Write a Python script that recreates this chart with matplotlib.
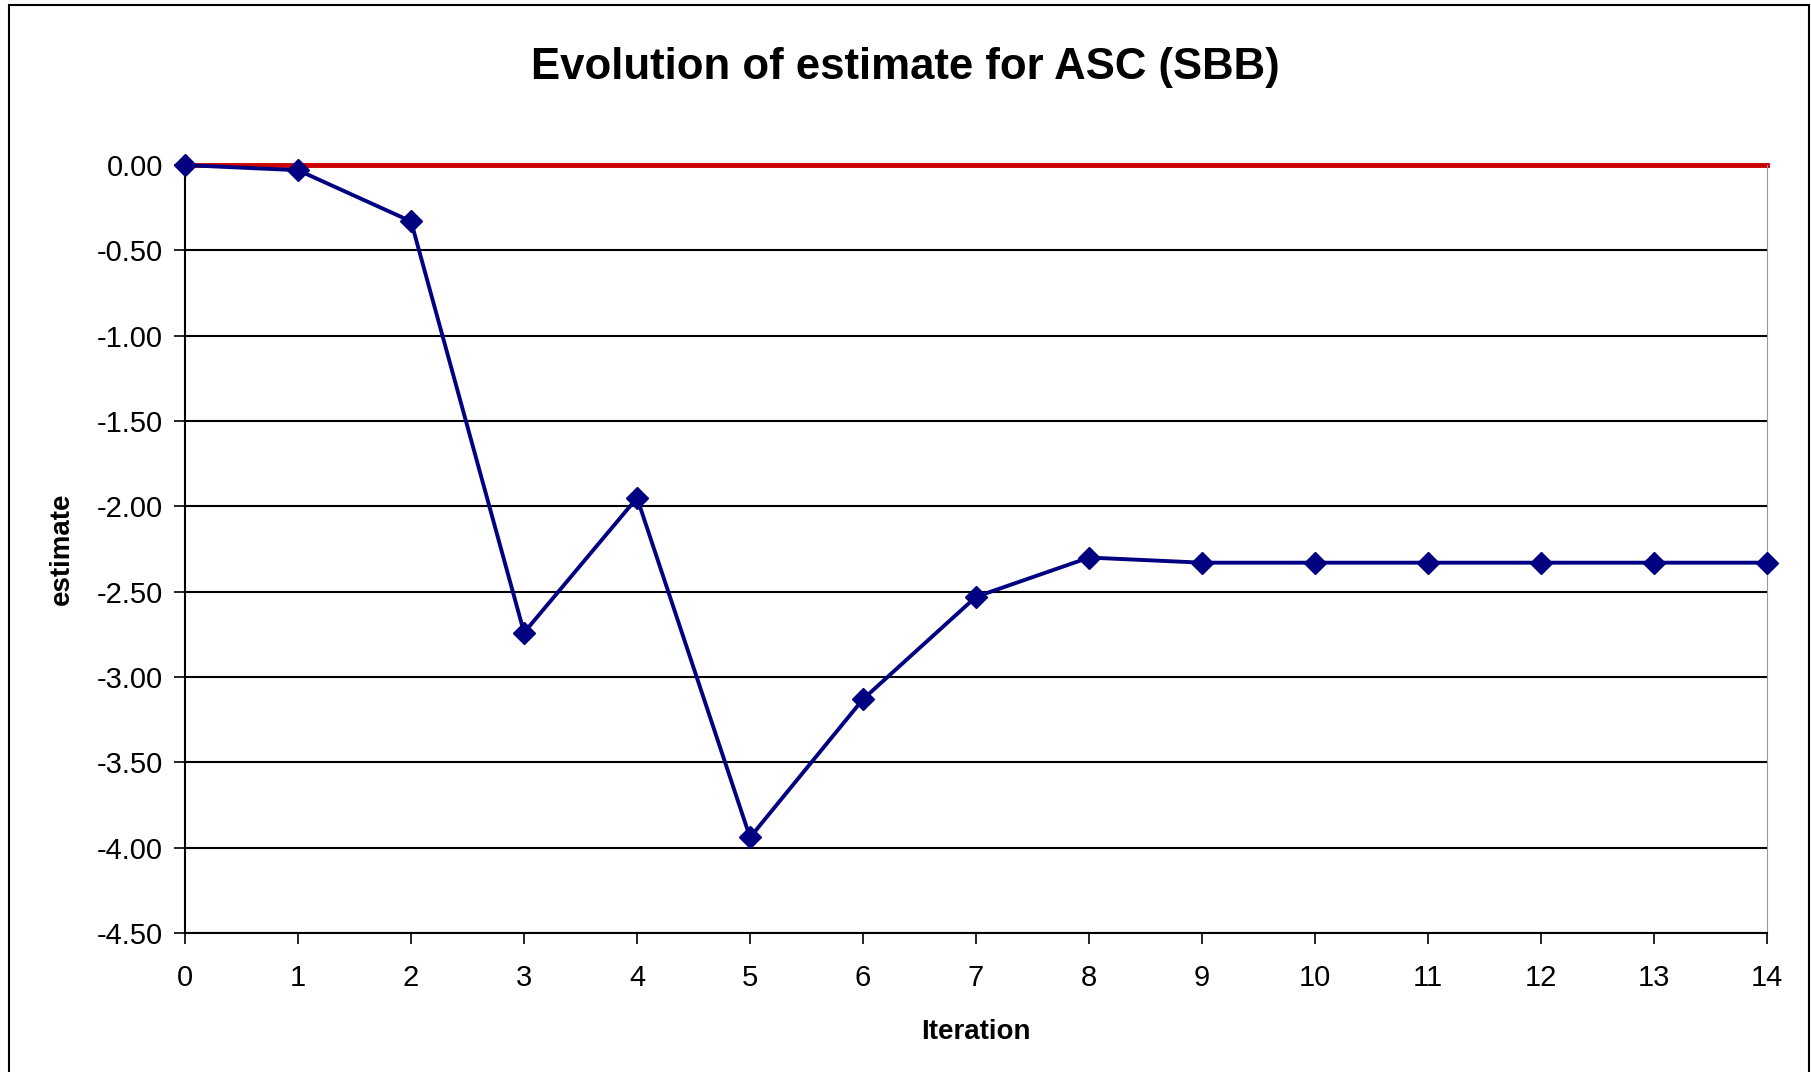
import matplotlib.pyplot as plt
from matplotlib.patches import Rectangle

# values
iteration = [0, 1, 2, 3, 4, 5, 6, 7, 8, 9, 10, 11, 12, 13, 14]
estimate = [0.00, -0.03, -0.33, -2.74, -1.95, -3.94, -3.13, -2.53, -2.30,
            -2.33, -2.33, -2.33, -2.33, -2.33, -2.33]
reference = [0.0, 0.0]

yticks = [0.0, -0.5, -1.0, -1.5, -2.0, -2.5, -3.0, -3.5, -4.0, -4.5]

plt.rcParams['font.family'] = ['Liberation Sans Narrow', 'Liberation Sans', 'DejaVu Sans']

fig = plt.figure(figsize=(18.11, 10.72), dpi=100)
ax = fig.add_axes([0.1022, 0.1297, 0.8735, 0.7163])

# outer chart frame
fig.patches.append(Rectangle((0.005, -0.01), 0.994, 1.005, transform=fig.transFigure,
                             fill=False, edgecolor='black', linewidth=1.5))

for y in yticks[1:]:
    ax.axhline(y, color='black', linewidth=1.5, zorder=1)

ax.plot([iteration[0], iteration[-1]], reference, color='#cc0000', linewidth=3.5,
        zorder=2, clip_on=False)
ax.plot(iteration, estimate, color='#000080', linewidth=2.8, marker='D',
        markersize=11, zorder=3, clip_on=False)

ax.set_xlim(0, 14)
ax.set_ylim(-4.5, 0)
ax.set_xticks(iteration)
ax.set_yticks(yticks)
ax.set_yticklabels(['%.2f' % v for v in yticks])
ax.tick_params(axis='y', labelsize=21, length=8, width=1.2, direction='out', pad=8)
ax.tick_params(axis='x', labelsize=21, length=8, width=1.2, direction='out', pad=14)

ax.spines['top'].set_visible(False)
ax.spines['right'].set_color('#999999')
ax.spines['left'].set_linewidth(1.5)
ax.spines['bottom'].set_linewidth(1.5)

ax.set_xlabel('Iteration', fontsize=20, fontweight='bold', family=['Liberation Sans', 'DejaVu Sans'], labelpad=20)
ax.set_ylabel('estimate', fontsize=20, fontweight='bold', family=['Liberation Sans', 'DejaVu Sans'], labelpad=16)
fig.text(0.5, 0.937, 'Evolution of estimate for ASC (SBB)', ha='center', va='center',
         fontsize=31.5, fontweight='bold', family=['Liberation Sans', 'DejaVu Sans'])

fig.savefig('out.png', dpi=100)
